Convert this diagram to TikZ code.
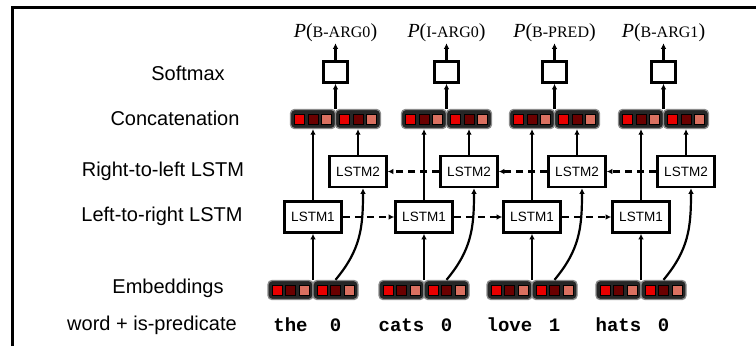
\documentclass[tikz,border=0pt]{standalone}
\usepackage{fontspec}
\newfontfamily\labfont{Liberation Sans}
\newfontfamily\wordfont{Liberation Mono}
\newfontfamily\pfont{Liberation Serif}
\usetikzlibrary{arrows.meta}
\definecolor{cbright}{HTML}{E80000}
\definecolor{cdark}{HTML}{6A0000}
\definecolor{csalmon}{HTML}{DA7060}
\tikzset{
  rowlabel/.style={font=\labfont\fontsize{20}{20}\selectfont, inner sep=0pt},
  lstmbox/.style={draw, fill=white, line width=2.6pt, minimum width=57pt, minimum height=31pt, inner sep=0pt, font=\labfont\fontsize{13.5}{13.5}\selectfont},
  smbox/.style={draw, line width=2.6pt, minimum width=24pt, minimum height=21pt, inner sep=0pt},
  half/.style={draw=black!45, fill=black!85, line width=1.3pt, rounded corners=4pt, minimum width=45pt, minimum height=19pt, inner sep=0pt},
  group/.style={minimum width=90pt, minimum height=19pt, inner sep=0pt},
  cell/.style={draw=black, line width=0.8pt, minimum size=10pt, inner sep=0pt},
  plabel/.style={inner sep=1pt},
  wordlabel/.style={font=\wordfont\bfseries\fontsize{19}{19}\selectfont, inner sep=0pt},
  conn/.style={line width=2.2pt, -{Latex[length=5.5pt,width=5.5pt]}},
  rec/.style={line width=2.2pt, dash pattern=on 7pt off 5pt, -{Latex[length=5.5pt,width=5.5pt]}},
}
\begin{document}
\begin{tikzpicture}[x=1pt,y=-1pt]
\useasboundingbox (0,0) rectangle (756,346);
% frame
\draw[line width=3pt] (12,346) -- (12,7.5) -- (756,7.5);
% row labels
\node[rowlabel] (lsoft) at (188,73) {Softmax};
\node[rowlabel] (lconc) at (175,118) {Concatenation};
\node[rowlabel] (lrl) at (163,171) {Right-to-left LSTM};
\node[rowlabel] (llr) at (162,216) {Left-to-right LSTM};
\node[rowlabel] (lemb) at (168,288) {Embeddings};
\node[rowlabel] (lword) at (152,325) {word + is-predicate};
% columns
\foreach \i/\b/\lab/\w/\f in {1/313/B-ARG0/the/0, 2/424/I-ARG0/cats/0, 3/532/B-PRED/love/1, 4/641/B-ARG1/hats/0}{
  % embeddings
  \node[group] (eg\i) at (\b,290) {};
  \node[half] (el\i) at (\b-22.5,290) {};
  \node[half] (er\i) at (\b+22.5,290) {};
  \foreach \h in {el\i,er\i}{
    \node[cell, fill=cbright] at ([xshift=-13.5pt]\h.center) {};
    \node[cell, fill=cdark] at (\h.center) {};
    \node[cell, fill=csalmon] at ([xshift=13.5pt]\h.center) {};
  }
  % words
  \node[wordlabel] (w\i) at (\b-22.5,325) {\w};
  \node[wordlabel] (f\i) at (\b+22.5,325) {\f};
  % concatenation
  \node[group] (cg\i) at (\b+22.5,119) {};
  \node[half] (cl\i) at (\b,119) {};
  \node[half] (cr\i) at (\b+45,119) {};
  \foreach \h in {cl\i,cr\i}{
    \node[cell, fill=cbright] at ([xshift=-13.5pt]\h.center) {};
    \node[cell, fill=cdark] at (\h.center) {};
    \node[cell, fill=csalmon] at ([xshift=13.5pt]\h.center) {};
  }
  % softmax
  \node[smbox] (sm\i) at (\b+22.5,72) {};
  \node[plabel] (p\i) at (\b+22.5,33) {\pfont\fontsize{20}{20}\selectfont\textit{P}(\fontsize{16}{16}\selectfont\lab\fontsize{20}{20}\selectfont)};
  % LSTMs
  \node[lstmbox] (la\i) at (\b,217) {LSTM1};
  \node[lstmbox] (lb\i) at (\b+45,171.5) {LSTM2};
}
% recurrent connections
\foreach \i/\j in {1/2,2/3,3/4}{
  \draw[rec] (la\i.east) -- (la\j.west);
  \draw[rec] (lb\j.west) -- (lb\i.east);
}
% feed-forward connections
\foreach \i in {1,2,3,4}{
  \draw[conn] (eg\i.north) -- (la\i.south);
  \draw[conn] (er\i.north) .. controls +(25,-30) and +(0,40) .. ([xshift=5pt]lb\i.south);
  \draw[conn] (la\i.north) -- (cl\i.south);
  \draw[conn] (lb\i.north) -- (cr\i.south);
  \draw[conn] (cg\i.north) -- (sm\i.south);
  \draw[conn] (sm\i.north) -- (p\i.south);
}
\end{tikzpicture}
\end{document}
